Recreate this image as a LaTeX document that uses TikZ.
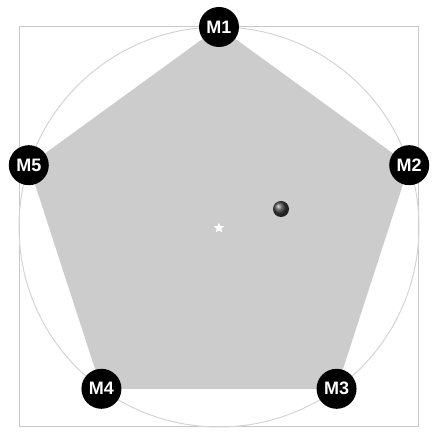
\documentclass[tikz,border=0pt]{standalone}
\usepackage{fontspec}
\setsansfont{Liberation Sans}
\usetikzlibrary{shapes.geometric,backgrounds}
\definecolor{ringgray}{RGB}{212,212,212}
\definecolor{boxgray} {RGB}{200,200,200}
\definecolor{pentgray}{RGB}{204,204,204}
\tikzset{
  mach/.style={circle,fill=black,minimum size=40pt,inner sep=0pt,
               text=white,font=\sffamily\bfseries\fontsize{18}{18}\selectfont},
  frame/.style={draw=boxgray,line width=1pt},
  ring/.style={draw=ringgray,line width=1pt},
  pent/.style={fill=pentgray},
  centre/.style={star,star points=5,star point ratio=2.3,fill=white,
                 minimum size=11pt,inner sep=0pt},
}

\begin{document}
\begin{tikzpicture}[x=1pt,y=1pt]
  \useasboundingbox (0,0) rectangle (437,436);
  \begin{scope}[shift={(219,209)}]
  \coordinate (c) at (0,0);
  \draw[frame] (-199.5,-200) rectangle (199.5,200);
  \draw[ring] (c) circle (200);
  % the five machines
  \node[mach] (m1) at (90:200) {M1};
  \node[mach] (m2) at (18:200) {M2};
  \node[mach] (m3) at (-54:200) {M3};
  \node[mach] (m4) at (-126:200) {M4};
  \node[mach] (m5) at (162:200) {M5};
  \begin{pgfonlayer}{background}
  \fill[pent] (m1.center) -- (m2.center) -- (m3.center) -- (m4.center) -- (m5.center) -- cycle;
  \end{pgfonlayer}
  \node[centre] (ctr) at (0,-1) {};
  \shade[ball color=black!75] (62,18) circle (8);
  \end{scope}
\end{tikzpicture}
\end{document}
